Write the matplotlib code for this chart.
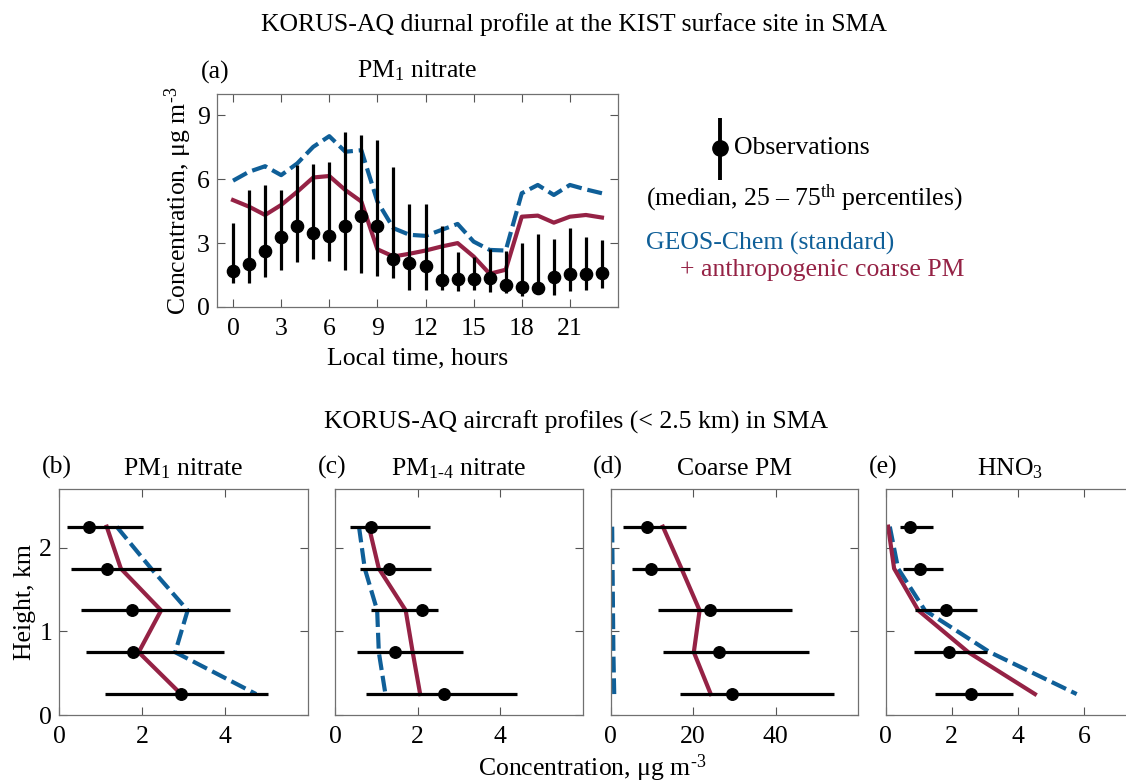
import matplotlib
matplotlib.use("Agg")
import matplotlib.pyplot as plt
import numpy as np

plt.rcParams['font.family'] = ['Liberation Serif', 'DejaVu Serif']
plt.rcParams['mathtext.fontset'] = 'custom'
plt.rcParams['mathtext.rm'] = 'Liberation Serif'
plt.rcParams['mathtext.it'] = 'Liberation Serif:italic'
plt.rcParams['mathtext.bf'] = 'Liberation Serif:bold'

BLUE = '#0f5f98'
RED = '#952245'

# ---------------- Panel (a): diurnal profile ----------------
hours = list(range(24))
obs_med = [1.67, 2.03, 2.62, 3.28, 3.78, 3.49, 3.35, 3.82, 4.29, 3.78, 2.25, 2.06,
           1.93, 1.28, 1.31, 1.31, 1.34, 1.01, 0.94, 0.87, 1.39, 1.54, 1.54, 1.58]
obs_p75 = [3.93, 5.49, 5.73, 5.49, 6.66, 6.71, 6.83, 8.21, 8.07, 7.86, 6.58, 4.84,
           4.84, 3.78, 2.57, 2.34, 2.71, 2.61, 3.00, 3.42, 3.18, 3.70, 3.28, 3.15]
obs_p25 = [1.12, 1.12, 1.39, 1.72, 2.11, 2.26, 2.18, 1.72, 1.59, 1.47, 1.34, 0.81,
           0.81, 0.78, 0.75, 0.78, 0.69, 0.66, 0.53, 0.62, 0.58, 0.73, 0.78, 0.87]
gc_std = [5.93, 6.35, 6.61, 6.19, 6.74, 7.52, 8.02, 7.29, 7.36, 4.95, 3.70, 3.39,
          3.34, 3.62, 3.90, 3.07, 2.68, 2.65, 5.34, 5.73, 5.26, 5.73, 5.52, 5.34]
gc_anth = [5.02, 4.71, 4.32, 4.79, 5.41, 6.08, 6.15, 5.49, 4.95, 2.71, 2.37, 2.50,
           2.65, 2.84, 3.00, 2.37, 1.56, 1.75, 4.24, 4.29, 3.96, 4.24, 4.32, 4.20]

# ---------------- Bottom panels: aircraft profiles ----------------
heights = [2.25, 1.75, 1.25, 0.75, 0.25]

b_obs = [0.73, 1.16, 1.76, 1.79, 2.94]
b_lo = [0.20, 0.29, 0.53, 0.65, 1.11]
b_hi = [2.02, 2.46, 4.13, 3.98, 5.04]
b_std = [1.39, 2.22, 3.10, 2.80, 4.75]
b_anth = [1.15, 1.49, 2.46, 1.92, 2.94]

c_obs = [0.88, 1.30, 2.11, 1.46, 2.63]
c_lo = [0.36, 0.60, 0.86, 0.53, 0.76]
c_hi = [2.29, 2.33, 2.49, 3.09, 4.41]
c_std = [0.58, 0.72, 1.02, 1.06, 1.22]
c_anth = [0.82, 1.06, 1.71, 1.88, 2.06]

d_obs = [8.95, 9.9, 24.0, 26.3, 29.5]
d_lo = [3.1, 5.1, 11.5, 12.7, 16.9]
d_hi = [18.2, 19.2, 44.0, 48.1, 54.3]
d_std = [0.4, 0.5, 0.6, 0.7, 0.9]
d_anth = [12.7, 17.2, 21.6, 20.2, 24.3]

e_obs = [0.74, 1.04, 1.82, 1.92, 2.57]
e_lo = [0.45, 0.53, 0.89, 0.87, 1.50]
e_hi = [1.42, 1.74, 2.75, 3.05, 3.86]
e_std = [0.13, 0.38, 1.19, 3.15, 5.77]
e_anth = [0.08, 0.26, 0.99, 2.50, 4.51]

W, H = 1126, 782
fig = plt.figure(figsize=(W / 100, H / 100), dpi=100)


def ax_px(l, t, r, b):
    return fig.add_axes([l / W, 1 - b / H, (r - l) / W, (b - t) / H])


FS = 18.5


def style(ax):
    ax.tick_params(direction='in', top=True, right=True, length=6, width=0.8,
                   color='#555555', labelsize=FS, pad=5)
    ax.tick_params(axis='x', pad=8)
    for s in ax.spines.values():
        s.set_color('#707070')
        s.set_linewidth(0.9)


DASH = (0, (3.8, 1.4))
LW = 3.0

# Panel (a)
axa = ax_px(217, 94, 618, 307)
axa.vlines(hours, obs_p25, obs_p75, color='black', lw=2.3, zorder=3)
axa.plot(hours, obs_med, 'o', color='black', ms=8.8, zorder=4)
axa.plot(hours, gc_std, color=BLUE, lw=LW, linestyle=DASH, zorder=2)
axa.plot(hours, gc_anth, color=RED, lw=LW, zorder=2)
axa.set_xlim(-1, 24)
axa.set_ylim(0, 10)
axa.set_xticks(range(0, 22, 3))
axa.set_yticks([0, 3, 6, 9])
style(axa)
axa.set_xlabel('Local time, hours', fontsize=FS, labelpad=5)
axa.set_ylabel('Concentration, μg m$^{\\text{-}3}$', fontsize=FS, labelpad=2)
axa.set_title('PM$_{1}$ nitrate', fontsize=FS, pad=12)
fig.text(201 / W, 1 - 72 / H, '(a)', fontsize=FS, va='center', ha='left')

fig.text(574 / W, 1 - 25 / H, 'KORUS-AQ diurnal profile at the KIST surface site in SMA',
         fontsize=FS, ha='center', va='center')
fig.text(576 / W, 1 - 422 / H, 'KORUS-AQ aircraft profiles (< 2.5 km) in SMA',
         fontsize=FS, ha='center', va='center')

# Legend (drawn in figure pixel space)
leg = fig.add_axes([0, 0, 1, 1])
leg.set_xlim(0, W)
leg.set_ylim(H, 0)
leg.axis('off')
leg.vlines([720], [118], [180], color='black', lw=2.8)
leg.plot([720], [148], 'o', color='black', ms=11)
leg.text(734, 148, 'Observations', fontsize=FS, va='center', ha='left')
leg.text(646, 198, '(median, 25 – 75$^{\\rm th}$ percentiles)', fontsize=FS, va='center', ha='left')
leg.text(646, 243, 'GEOS-Chem (standard)', fontsize=FS, va='center', ha='left', color=BLUE)
leg.text(680, 270, '+ anthropogenic coarse PM', fontsize=FS, va='center', ha='left', color=RED)

panels = [
    ((59, 489, 308, 715), b_obs, b_lo, b_hi, b_std, b_anth, (0, 6), [0, 2, 4], 'PM$_{1}$ nitrate', '(b)', 42),
    ((335, 489, 583, 715), c_obs, c_lo, c_hi, c_std, c_anth, (0, 6), [0, 2, 4], 'PM$_{1\\text{-}4}$ nitrate', '(c)', 318),
    ((610.5, 489, 858, 715), d_obs, d_lo, d_hi, d_std, d_anth, (0, 60), [0, 20, 40], 'Coarse PM', '(d)', 593),
    ((885.5, 489, 1134, 715), e_obs, e_lo, e_hi, e_std, e_anth, (0, 7.5), [0, 2, 4, 6], 'HNO$_{3}$', '(e)', 869),
]

for i, (box, obs, lo, hi, std, anth, xl, xt, title, lab, labx) in enumerate(panels):
    ax = ax_px(*box)
    ax.hlines(heights, lo, hi, color='black', lw=2.3, zorder=3)
    ax.plot(obs, heights, 'o', color='black', ms=8.3, zorder=4)
    ax.plot(std, heights, color=BLUE, lw=LW, linestyle=DASH, zorder=2)
    ax.plot(anth, heights, color=RED, lw=LW, zorder=2)
    ax.set_xlim(*xl)
    ax.set_ylim(0, 2.7)
    ax.set_xticks(xt)
    ax.set_yticks([0, 1, 2])
    style(ax)
    if i > 0:
        ax.set_yticklabels([])
    else:
        ax.set_ylabel('Height, km', fontsize=FS, labelpad=2)
    ax.set_title(title, fontsize=FS, pad=10)
    fig.text(labx / W, 1 - 467 / H, lab, fontsize=FS, va='center', ha='left')

fig.text(592 / W, 1 - 768 / H, 'Concentration, μg m$^{\\text{-}3}$', fontsize=FS, ha='center', va='center')

fig.savefig('out.png', dpi=100)
